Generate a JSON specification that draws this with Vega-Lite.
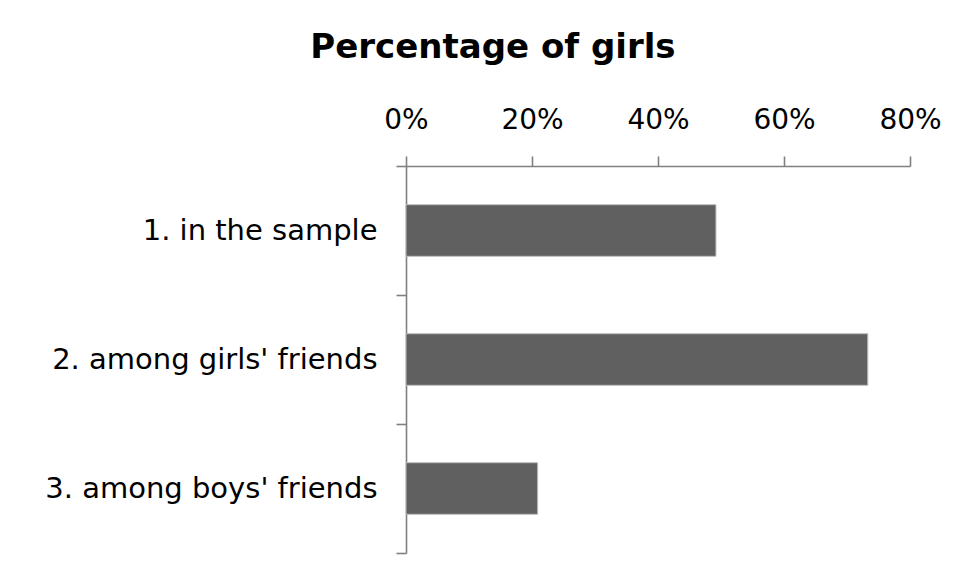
{
  "$schema": "https://vega.github.io/schema/vega-lite/v6.json",
  "width": 504,
  "height": 387,
  "autosize": {"type": "none"},
  "padding": {"left": 406, "top": 166, "right": 50, "bottom": 25},
  "background": "white",
  "title": {
    "text": "Percentage of girls",
    "font": "DejaVu Sans",
    "fontSize": 34,
    "fontWeight": "bold",
    "color": "black",
    "anchor": "middle",
    "frame": "bounds",
    "offset": 41
  },
  "data": {
    "values": [
      {"group": "1. in the sample", "pct": 0.492},
      {"group": "2. among girls' friends", "pct": 0.733},
      {"group": "3. among boys' friends", "pct": 0.209}
    ]
  },
  "mark": {
    "type": "bar",
    "height": {"band": 0.4},
    "fill": "#606060",
    "stroke": "#bdbdbd",
    "strokeWidth": 1
  },
  "encoding": {
    "y": {
      "field": "group",
      "type": "nominal",
      "sort": null,
      "scale": {"paddingInner": 0, "paddingOuter": 0},
      "axis": {
        "title": null,
        "orient": "left",
        "tickBand": "extent",
        "labelFont": "DejaVu Sans",
        "labelFontSize": 29,
        "labelColor": "black",
        "labelPadding": 19,
        "labelLimit": 500,
        "tickSize": 10,
        "tickColor": "#808080",
        "tickWidth": 1.6,
        "domainColor": "#808080",
        "domainWidth": 1.6,
        "grid": false
      }
    },
    "x": {
      "field": "pct",
      "type": "quantitative",
      "scale": {"domain": [0, 0.8], "nice": false},
      "axis": {
        "title": null,
        "orient": "top",
        "values": [0, 0.2, 0.4, 0.6, 0.8],
        "format": ".0%",
        "labelFont": "DejaVu Sans",
        "labelFontSize": 28,
        "labelColor": "black",
        "labelPadding": 22,
        "labelFlush": false,
        "labelOverlap": false,
        "labelBound": false,
        "tickSize": 10,
        "tickColor": "#808080",
        "tickWidth": 1.6,
        "domainColor": "#808080",
        "domainWidth": 1.6,
        "grid": false
      }
    }
  },
  "config": {"view": {"stroke": null}}
}
